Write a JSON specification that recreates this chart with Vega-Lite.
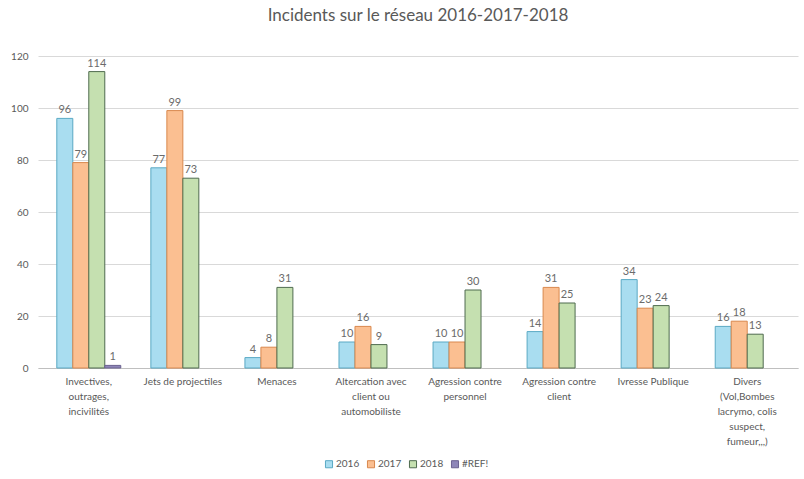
{
  "$schema": "https://vega.github.io/schema/vega-lite/v6.json",
  "width": 760,
  "height": 312,
  "autosize": {"type": "none"},
  "padding": {"left": 38, "top": 56, "right": 6, "bottom": 111},
  "background": "white",
  "config": {"font": "Lato", "view": {"stroke": null}},
  "title": {"text": "Incidents sur le réseau 2016-2017-2018", "fontSize": 17, "fontWeight": "normal", "color": "#595959", "offset": 26, "anchor": "middle"},
  "data": {"values": [
    {"categorie": "Invectives,|outrages,|incivilités", "serie": "2016", "valeur": 96},
    {"categorie": "Invectives,|outrages,|incivilités", "serie": "2017", "valeur": 79},
    {"categorie": "Invectives,|outrages,|incivilités", "serie": "2018", "valeur": 114},
    {"categorie": "Invectives,|outrages,|incivilités", "serie": "#REF!", "valeur": 1},
    {"categorie": "Jets de projectiles", "serie": "2016", "valeur": 77},
    {"categorie": "Jets de projectiles", "serie": "2017", "valeur": 99},
    {"categorie": "Jets de projectiles", "serie": "2018", "valeur": 73},
    {"categorie": "Menaces", "serie": "2016", "valeur": 4},
    {"categorie": "Menaces", "serie": "2017", "valeur": 8},
    {"categorie": "Menaces", "serie": "2018", "valeur": 31},
    {"categorie": "Altercation avec|client ou|automobiliste", "serie": "2016", "valeur": 10},
    {"categorie": "Altercation avec|client ou|automobiliste", "serie": "2017", "valeur": 16},
    {"categorie": "Altercation avec|client ou|automobiliste", "serie": "2018", "valeur": 9},
    {"categorie": "Agression contre|personnel", "serie": "2016", "valeur": 10},
    {"categorie": "Agression contre|personnel", "serie": "2017", "valeur": 10},
    {"categorie": "Agression contre|personnel", "serie": "2018", "valeur": 30},
    {"categorie": "Agression contre|client", "serie": "2016", "valeur": 14},
    {"categorie": "Agression contre|client", "serie": "2017", "valeur": 31},
    {"categorie": "Agression contre|client", "serie": "2018", "valeur": 25},
    {"categorie": "Ivresse Publique", "serie": "2016", "valeur": 34},
    {"categorie": "Ivresse Publique", "serie": "2017", "valeur": 23},
    {"categorie": "Ivresse Publique", "serie": "2018", "valeur": 24},
    {"categorie": "Divers|(Vol,Bombes|lacrymo, colis|suspect,|fumeur,,,)", "serie": "2016", "valeur": 16},
    {"categorie": "Divers|(Vol,Bombes|lacrymo, colis|suspect,|fumeur,,,)", "serie": "2017", "valeur": 18},
    {"categorie": "Divers|(Vol,Bombes|lacrymo, colis|suspect,|fumeur,,,)", "serie": "2018", "valeur": 13}
  ]},
  "encoding": {
    "x": {"field": "categorie", "type": "nominal", "sort": null,
      "scale": {"paddingInner": 0.32, "paddingOuter": 0.2},
      "axis": {"title": null, "labelAngle": 0, "labelExpr": "split(datum.label, '|')", "labelFontSize": 10, "labelColor": "#595959", "labelLineHeight": 15, "ticks": false, "domainColor": "#bfbfbf", "labelPadding": 8, "labelLimit": 120}},
    "xOffset": {"field": "serie", "type": "nominal", "scale": {"domain": ["2016", "2017", "2018", "#REF!"], "padding": 0}},
    "y": {"field": "valeur", "type": "quantitative",
      "scale": {"domain": [0, 120]},
      "axis": {"title": null, "values": [0, 20, 40, 60, 80, 100, 120], "labelFontSize": 10, "labelColor": "#595959", "ticks": false, "domain": false, "gridColor": "#d9d9d9", "labelPadding": 10}}
  },
  "layer": [
    {
      "mark": {"type": "bar", "strokeWidth": 1},
      "encoding": {
        "color": {"field": "serie", "type": "nominal",
          "scale": {"domain": ["2016", "2017", "2018", "#REF!"], "range": ["#a9ddf0", "#fbbf91", "#c5e0b0", "#8e86b8"]},
          "legend": {"title": null, "orient": "none", "direction": "horizontal", "legendX": 286, "legendY": 403, "symbolType": "square", "symbolSize": 50, "labelFontSize": 10, "labelColor": "#595959", "columnPadding": 5, "labelOffset": 2, "symbolStrokeWidth": 1}},
        "stroke": {"field": "serie", "type": "nominal",
          "scale": {"domain": ["2016", "2017", "2018", "#REF!"], "range": ["#5aa9c4", "#d9884e", "#4f6b4f", "#6b6290"]},
          "legend": null}
      }
    },
    {
      "mark": {"type": "text", "dy": -8, "fontSize": 11, "color": "#6b6b6b"},
      "encoding": {"text": {"field": "valeur", "type": "quantitative"}}
    }
  ]
}
